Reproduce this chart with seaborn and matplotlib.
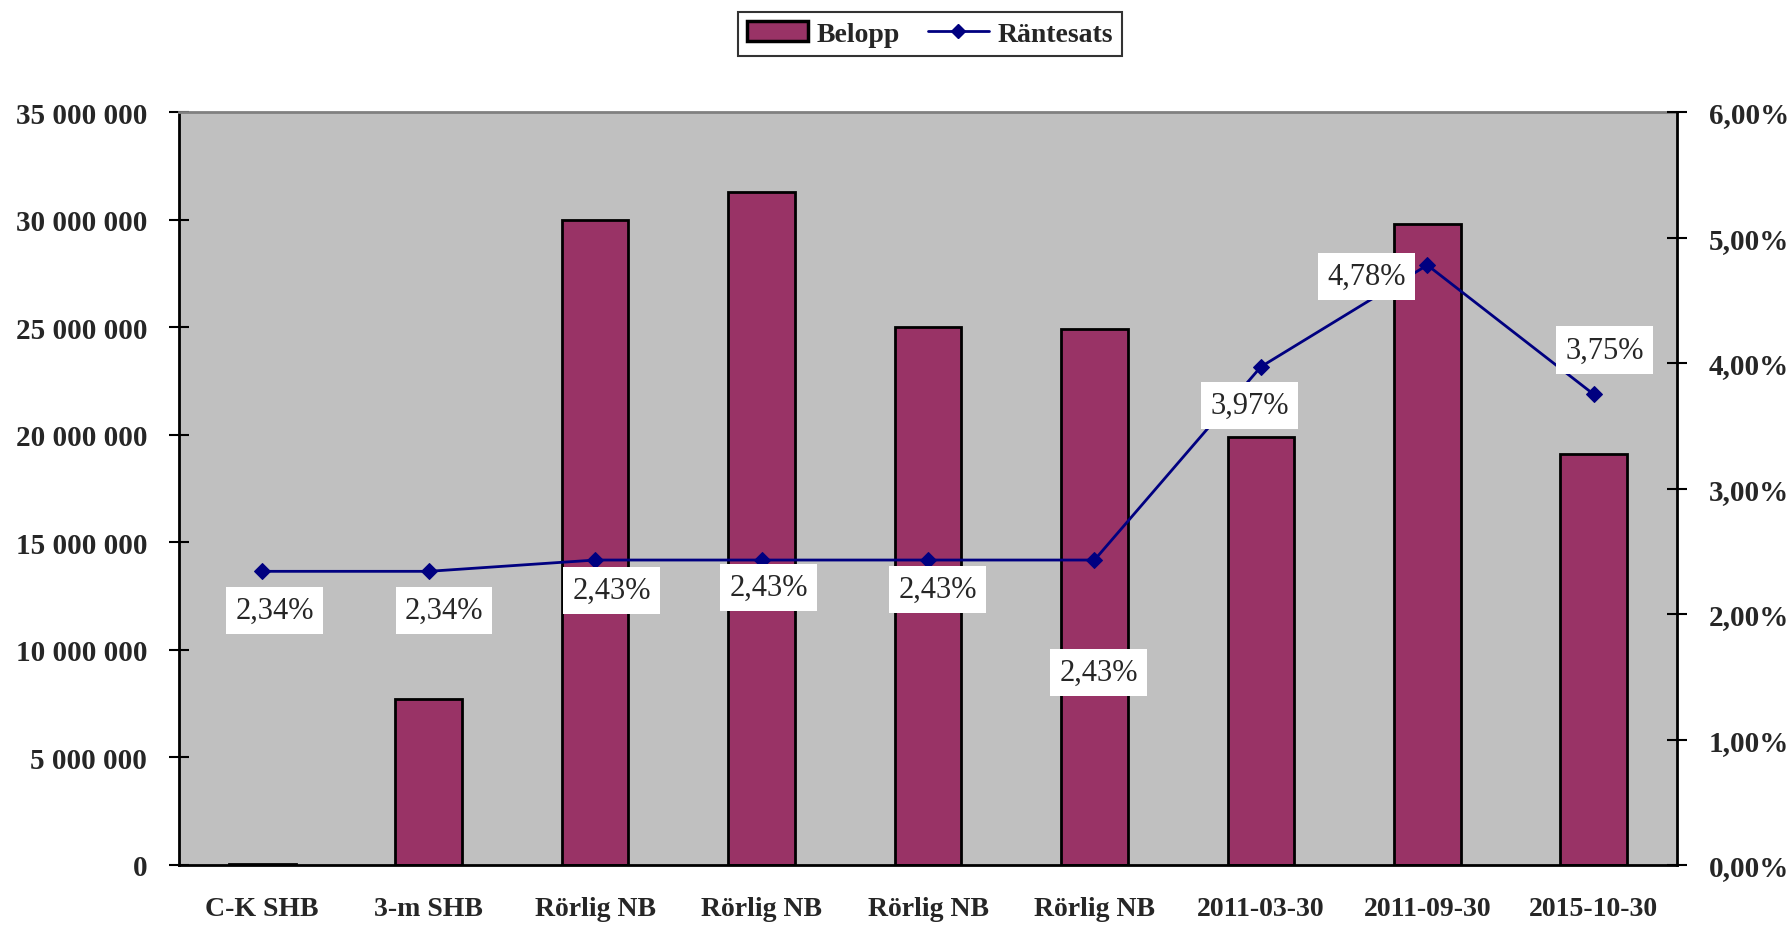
import matplotlib
matplotlib.use("Agg")
import matplotlib.pyplot as plt
import matplotlib.ticker as mticker
from matplotlib.patches import Patch
from matplotlib.lines import Line2D
import seaborn as sns
import pandas as pd
import numpy as np

categories = ["C-K SHB", "3-m SHB", "Rörlig NB", "Rörlig NB", "Rörlig NB",
              "Rörlig NB", "2011-03-30", "2011-09-30", "2015-10-30"]
belopp = [50000, 7700000, 30000000, 31300000, 25000000, 24900000,
          19900000, 29800000, 19100000]
rantesats = [2.34, 2.34, 2.43, 2.43, 2.43, 2.43, 3.97, 4.78, 3.75]
left_ticks = [0, 5000000, 10000000, 15000000, 20000000, 25000000, 30000000, 35000000]
right_ticks = [0, 1, 2, 3, 4, 5, 6]
# label offsets in points (style only)
label_offsets = [(9, -28), (11, -28), (12, -22), (5, -20), (7, -21),
                 (3, -81), (-8, -28), (-44, -8), (8, 32)]

sns.set_style("white")
plt.rcParams["font.family"] = ["Liberation Serif", "DejaVu Serif"]

df = pd.DataFrame({"pos": np.arange(len(categories)), "belopp": belopp,
                   "rantesats": rantesats})

fig = plt.figure(figsize=(17.91, 9.29), dpi=100)
ax = fig.add_axes([179/1791, 1-866/929, (1677-179)/1791, (866-113)/929])
ax.set_facecolor("#C0C0C0")

sns.barplot(data=df, x="pos", y="belopp", color="#993366", saturation=1,
            edgecolor="black", linewidth=2, width=0.4, ax=ax, zorder=2)
ax.set_xlim(-0.5, len(categories) - 0.5)
ax.set_ylim(0, 35000000)
ax.set_yticks(left_ticks)
ax.yaxis.set_major_formatter(mticker.FuncFormatter(
    lambda v, p: f"{int(round(v)):,}".replace(",", " ")))
ax.set_xticks(np.arange(len(categories)))
ax.set_xticklabels(categories, fontsize=20, fontweight="bold")
ax.set_xticks(np.arange(len(categories) + 1) - 0.5, minor=True)
ax.tick_params(axis="x", which="major", length=0, pad=22)
ax.tick_params(axis="x", which="minor", direction="inout", length=14, width=1.5, color="black")
ax.tick_params(axis="y", which="major", direction="inout", length=14, width=1.5,
               color="black", labelsize=21, pad=16, left=True)
for t in ax.get_yticklabels():
    t.set_fontweight("bold")
ax.set_xlabel("")
ax.set_ylabel("")
ax.grid(False)
for s in ["left", "bottom"]:
    ax.spines[s].set_color("black")
    ax.spines[s].set_linewidth(2)
ax.spines["top"].set_color("#808080")
ax.spines["top"].set_linewidth(2)
ax.spines["right"].set_visible(False)

ax2 = ax.twinx()
sns.lineplot(data=df, x="pos", y="rantesats", color="#000080", linewidth=2,
             marker="D", markersize=8, markeredgecolor="#000080", ax=ax2, legend=False)
ax2.set_ylim(0, 6)
ax2.set_yticks(right_ticks)
ax2.yaxis.set_major_formatter(mticker.FuncFormatter(
    lambda v, p: f"{v:.2f}%".replace(".", ",")))
ax2.tick_params(axis="y", which="major", direction="inout", length=14, width=1.5,
                color="black", labelsize=21, pad=16, right=True)
for t in ax2.get_yticklabels():
    t.set_fontweight("bold")
ax2.set_ylabel("")
ax2.set_xlabel("")
ax2.spines["right"].set_color("black")
ax2.spines["right"].set_linewidth(2)
for s in ["top", "left", "bottom"]:
    ax2.spines[s].set_visible(False)
ax2.set_xlim(-0.5, len(categories) - 0.5)

for i, (r, off) in enumerate(zip(rantesats, label_offsets)):
    ax2.annotate(f"{r:.2f}%".replace(".", ","), xy=(i, r), xytext=off,
                 textcoords="offset points", ha="center", va="center",
                 fontsize=22,
                 bbox=dict(boxstyle="square,pad=0.3", facecolor="white", edgecolor="none"),
                 zorder=5)

handles = [Patch(facecolor="#993366", edgecolor="black", linewidth=2.5),
           Line2D([0], [0], color="#000080", linewidth=2, marker="D", markersize=7)]
leg = fig.legend(handles, ["Belopp", "Räntesats"], loc="center",
                 bbox_to_anchor=(930/1791, 1-35/929), ncol=2, frameon=True,
                 fancybox=False, edgecolor="black", prop=dict(size=20, weight="bold"),
                 handlelength=2.2, handletextpad=0.3, columnspacing=1.0,
                 borderpad=0.35)
leg.get_frame().set_linewidth(1.5)

fig.savefig("out.png", dpi=100)
